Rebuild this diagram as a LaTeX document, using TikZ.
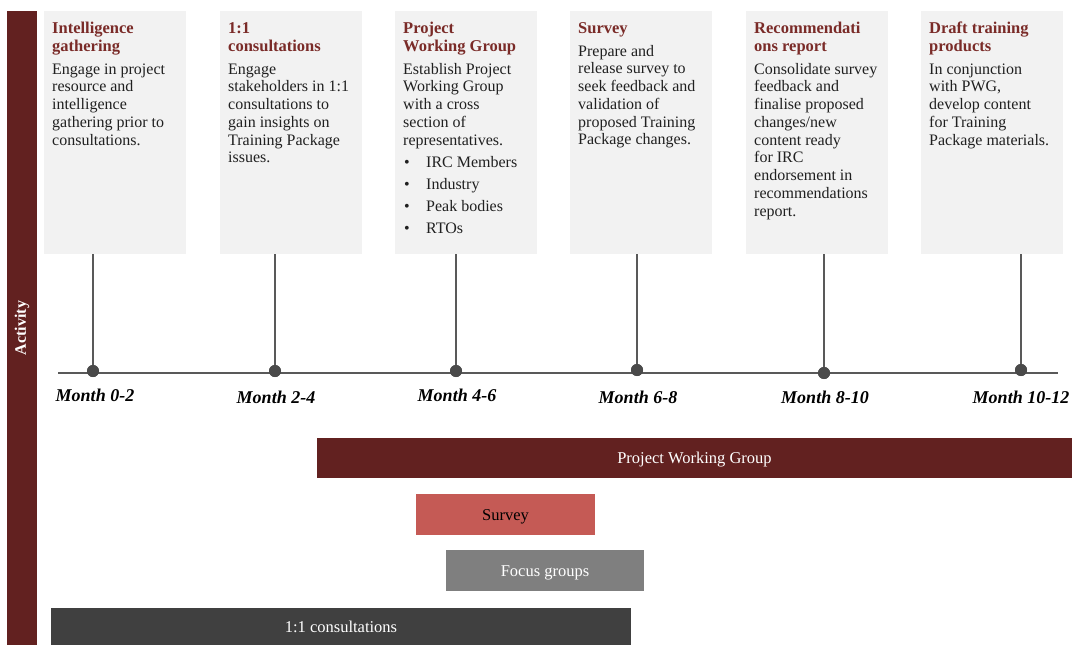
\documentclass[tikz,border=0pt]{standalone}
\usepackage{fontspec}
\setmainfont{Liberation Serif}
\usetikzlibrary{calc}
\definecolor{maroon}{HTML}{622120}
\definecolor{titlered}{HTML}{7A2B28}
\definecolor{boxgray}{HTML}{F2F2F2}
\definecolor{bodytext}{HTML}{202020}
\definecolor{linegray}{HTML}{595959}
\definecolor{dotgray}{HTML}{4A4A4A}
\definecolor{surveyred}{HTML}{C55A55}
\definecolor{focusgray}{HTML}{7F7F7F}
\definecolor{consgray}{HTML}{404040}
\begin{document}
\begin{tikzpicture}[x=1pt,y=-1pt,
  actbox/.style={fill=maroon, draw=none, minimum width=30pt, minimum height=634pt, anchor=north west, inner sep=0},
  infobox/.style={fill=boxgray, draw=none, minimum width=142pt, minimum height=243pt, anchor=north west, inner sep=0},
  ttl/.style={anchor=north west, inner sep=0, align=left, text=titlered, font=\fontsize{16.5}{18}\selectfont\bfseries},
  bdy/.style={anchor=north west, inner sep=0, align=left, text=bodytext, font=\fontsize{16}{17.75}\selectfont},
  tdot/.style={circle, fill=dotgray, minimum size=12pt, inner sep=0},
  vline/.style={draw=linegray, line width=1.4pt},
  tline/.style={draw=linegray, line width=2.6pt},
  month/.style={font=\fontsize{18}{20}\selectfont\bfseries\itshape, text=black, inner sep=0},
  bar/.style={inner sep=0, draw=none, text height=11pt, text depth=0pt, font=\fontsize{16.5}{20}\selectfont}
]
\useasboundingbox (0,0) rectangle (1072,645);
\fill[white] (0,0) rectangle (1072,645);

% left activity bar
\node[actbox] (act) at (7,11) {};
\node[rotate=90, text=white, font=\fontsize{16}{18}\selectfont\bfseries, inner sep=0] (actlbl) at (22,328) {Activity};

% info boxes
\node[infobox] (b1) at (44,11) {};
\node[infobox] (b2) at (220,11) {};
\node[infobox] (b3) at (395,11) {};
\node[infobox] (b4) at (570,11) {};
\node[infobox] (b5) at (746,11) {};
\node[infobox] (b6) at (921,11) {};

\newcommand{\fst}{\rule{0pt}{12pt}}
\newcommand{\bul}[1]{\makebox[23pt][l]{\hspace{1pt}\textbullet}#1}

\node[ttl] (t1) at (52,21) {\fst Intelligence\\gathering};
\node[bdy] (x1) at (52,62) {\fst Engage in project\\resource and\\intelligence\\gathering prior to\\consultations.};

\node[ttl] (t2) at (228,21) {\fst 1:1\\consultations};
\node[bdy] (x2) at (228,62) {\fst Engage\\stakeholders in 1:1\\consultations to\\gain insights on\\Training Package\\issues.};

\node[ttl] (t3) at (403,21) {\fst Project\\Working Group};
\node[bdy] (x3) at (403,62) {\fst Establish Project\\Working Group\\with a cross\\section of\\representatives.\\[4.25pt]\bul{IRC Members}\\[4.25pt]\bul{Industry}\\[4.25pt]\bul{Peak bodies}\\[4.25pt]\bul{RTOs}};

\node[ttl] (t4) at (578,21) {\fst Survey};
\node[bdy] (x4) at (578,44) {\fst Prepare and\\release survey to\\seek feedback and\\validation of\\proposed Training\\Package changes.};

\node[ttl] (t5) at (754,21) {\fst Recommendati\\ons report};
\node[bdy] (x5) at (754,62) {\fst Consolidate survey\\feedback and\\finalise proposed\\changes/new\\content ready\\for IRC\\endorsement in\\recommendations\\report.};

\node[ttl] (t6) at (929,21) {\fst Draft training\\products};
\node[bdy] (x6) at (929,62) {\fst In conjunction\\with PWG,\\develop content\\for Training\\Package materials.};

% timeline
\coordinate (tl0) at (58,373);
\coordinate (tl1) at (1058,373);
\draw[tline] (tl0) -- (tl1);

\node[tdot] (d1) at (93,371) {};
\node[tdot] (d2) at (275,371) {};
\node[tdot] (d3) at (456,371) {};
\node[tdot] (d4) at (637,370) {};
\node[tdot] (d5) at (824,373) {};
\node[tdot] (d6) at (1021,370) {};

\draw[vline] (b1.south -| d1) -- (d1.center);
\draw[vline] (b2.south -| d2) -- (d2.center);
\draw[vline] (b3.south -| d3) -- (d3.center);
\draw[vline] (b4.south -| d4) -- (d4.center);
\draw[vline] (b5.south -| d5) -- (d5.center);
\draw[vline] (b6.south -| d6) -- (d6.center);
\foreach \i in {1,...,6}{\node[tdot] at (d\i) {};}

% month labels
\node[month] (m1) at (95,395) {Month 0-2};
\node[month] (m2) at (276,397) {Month 2-4};
\node[month] (m3) at (457,395) {Month 4-6};
\node[month] (m4) at (638,397) {Month 6-8};
\node[month] (m5) at (825,397) {Month 8-10};
\node[month] (m6) at (1021,397) {Month 10-12};

% bars
\node[bar, fill=maroon, text=white, minimum width=755pt, minimum height=40pt] (pwg) at (694.5,458) {Project Working Group};
\node[bar, fill=surveyred, text=black, minimum width=179pt, minimum height=41pt] (svy) at (505.5,514.5) {Survey};
\node[bar, fill=focusgray, text=white, minimum width=198pt, minimum height=41pt] (fg) at (545,570.5) {Focus groups};
\node[bar, fill=consgray, text=white, minimum width=580pt, minimum height=37pt] (cons) at (341,626.5) {1:1 consultations};
\end{tikzpicture}
\end{document}
